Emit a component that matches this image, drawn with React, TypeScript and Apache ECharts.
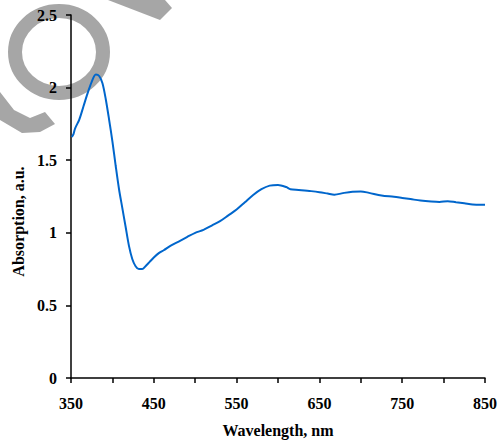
import React, { useEffect, useRef } from "react";
import * as echarts from "echarts";

const wavelengths = [
  351, 353, 355, 360, 365, 370, 375, 380, 384, 388, 392, 396, 400, 404, 408, 412, 416, 420,
  424, 428, 432, 436, 440, 445, 450, 456, 462, 470, 480, 490, 500, 510, 520, 530, 540, 550,
  560, 570, 580, 590, 600, 610, 615, 625, 640, 650, 660, 668, 680, 690, 700, 710, 725, 740,
  750, 760, 772, 785, 795, 805, 815, 825, 835, 845, 850,
];
const absorbance = [
  1.66, 1.68, 1.72, 1.78, 1.87, 1.96, 2.04, 2.09, 2.08, 2.03, 1.92, 1.78, 1.63, 1.46, 1.3, 1.17, 1.04, 0.91,
  0.82, 0.77, 0.75, 0.75, 0.77, 0.8, 0.83, 0.86, 0.88, 0.91, 0.94, 0.97, 1.0, 1.02, 1.05, 1.08, 1.12, 1.16,
  1.21, 1.26, 1.3, 1.325, 1.33, 1.315, 1.3, 1.295, 1.287, 1.28, 1.27, 1.262, 1.275, 1.283, 1.285, 1.275, 1.257, 1.248,
  1.24, 1.232, 1.222, 1.215, 1.212, 1.218, 1.21, 1.203, 1.195, 1.193, 1.193,
];
const xLabels = [350, 450, 550, 650, 750, 850];

const font = "'Liberation Serif', 'Times New Roman', serif";
const grey = "#a6a6a6";

export default function App() {
  const ref = useRef<HTMLDivElement>(null);
  useEffect(() => {
    if (!ref.current) return;
    const chart = echarts.init(ref.current, undefined, { renderer: "svg" });
    const data = wavelengths.map((w, i) => [w, absorbance[i]]);
    chart.setOption({
      animation: false,
      backgroundColor: "#ffffff",
      graphic: [
        {
          type: "ellipse",
          z: -10,
          silent: true,
          shape: { cx: 59, cy: 52, rx: 44, ry: 41 },
          style: { fill: "none", stroke: grey, lineWidth: 14 },
        },
        {
          type: "polygon",
          z: -10,
          silent: true,
          shape: {
            points: [
              [0, 92],
              [0, 120],
              [22, 133],
              [40, 132],
              [55, 124],
              [45, 112],
              [30, 118],
              [14, 110],
            ],
          },
          style: { fill: grey },
        },
        {
          type: "polygon",
          z: -10,
          silent: true,
          shape: {
            points: [
              [108, 0],
              [165, 0],
              [172, 8],
              [160, 20],
            ],
          },
          style: { fill: grey },
        },
      ],
      grid: { left: 71, right: 12, top: 15, bottom: 62, containLabel: false },
      xAxis: {
        type: "value",
        min: 350,
        max: 850,
        interval: 50,
        name: "Wavelength, nm",
        nameLocation: "middle",
        nameGap: 44,
        nameTextStyle: { fontFamily: font, fontWeight: "bold", fontSize: 16, color: "#000" },
        axisLine: { show: true, onZero: false, lineStyle: { color: "#000", width: 1.5 } },
        axisTick: { show: true, inside: false, length: 5, lineStyle: { color: "#000", width: 1.5 } },
        splitLine: { show: false },
        axisLabel: {
          margin: 17,
          fontFamily: font,
          fontWeight: "bold",
          fontSize: 16,
          color: "#000",
          formatter: (v: number) => (xLabels.includes(v) ? String(v) : ""),
        },
      },
      yAxis: {
        type: "value",
        min: 0,
        max: 2.5,
        interval: 0.5,
        name: "Absorption, a.u.",
        nameLocation: "middle",
        nameGap: 45,
        nameTextStyle: {
          fontFamily: font,
          fontWeight: "bold",
          fontSize: 16,
          color: "#000",
          padding: [0, 50, 0, 0],
        },
        axisLine: { show: true, lineStyle: { color: "#000", width: 1.5 } },
        axisTick: { show: true, inside: false, length: 5, lineStyle: { color: "#000", width: 1.5 } },
        splitLine: { show: false },
        axisLabel: {
          margin: 14,
          fontFamily: font,
          fontWeight: "bold",
          fontSize: 16,
          color: "#000",
          formatter: (v: number) => String(v),
        },
      },
      series: [
        {
          type: "line",
          data,
          showSymbol: false,
          smooth: 0.3,
          lineStyle: { color: "#0066cc", width: 2 },
          itemStyle: { color: "#0066cc" },
        },
      ],
    });
    return () => chart.dispose();
  }, []);
  return <div ref={ref} style={{ width: 500, height: 443, position: "absolute", left: 0, top: 0 }} />;
}
